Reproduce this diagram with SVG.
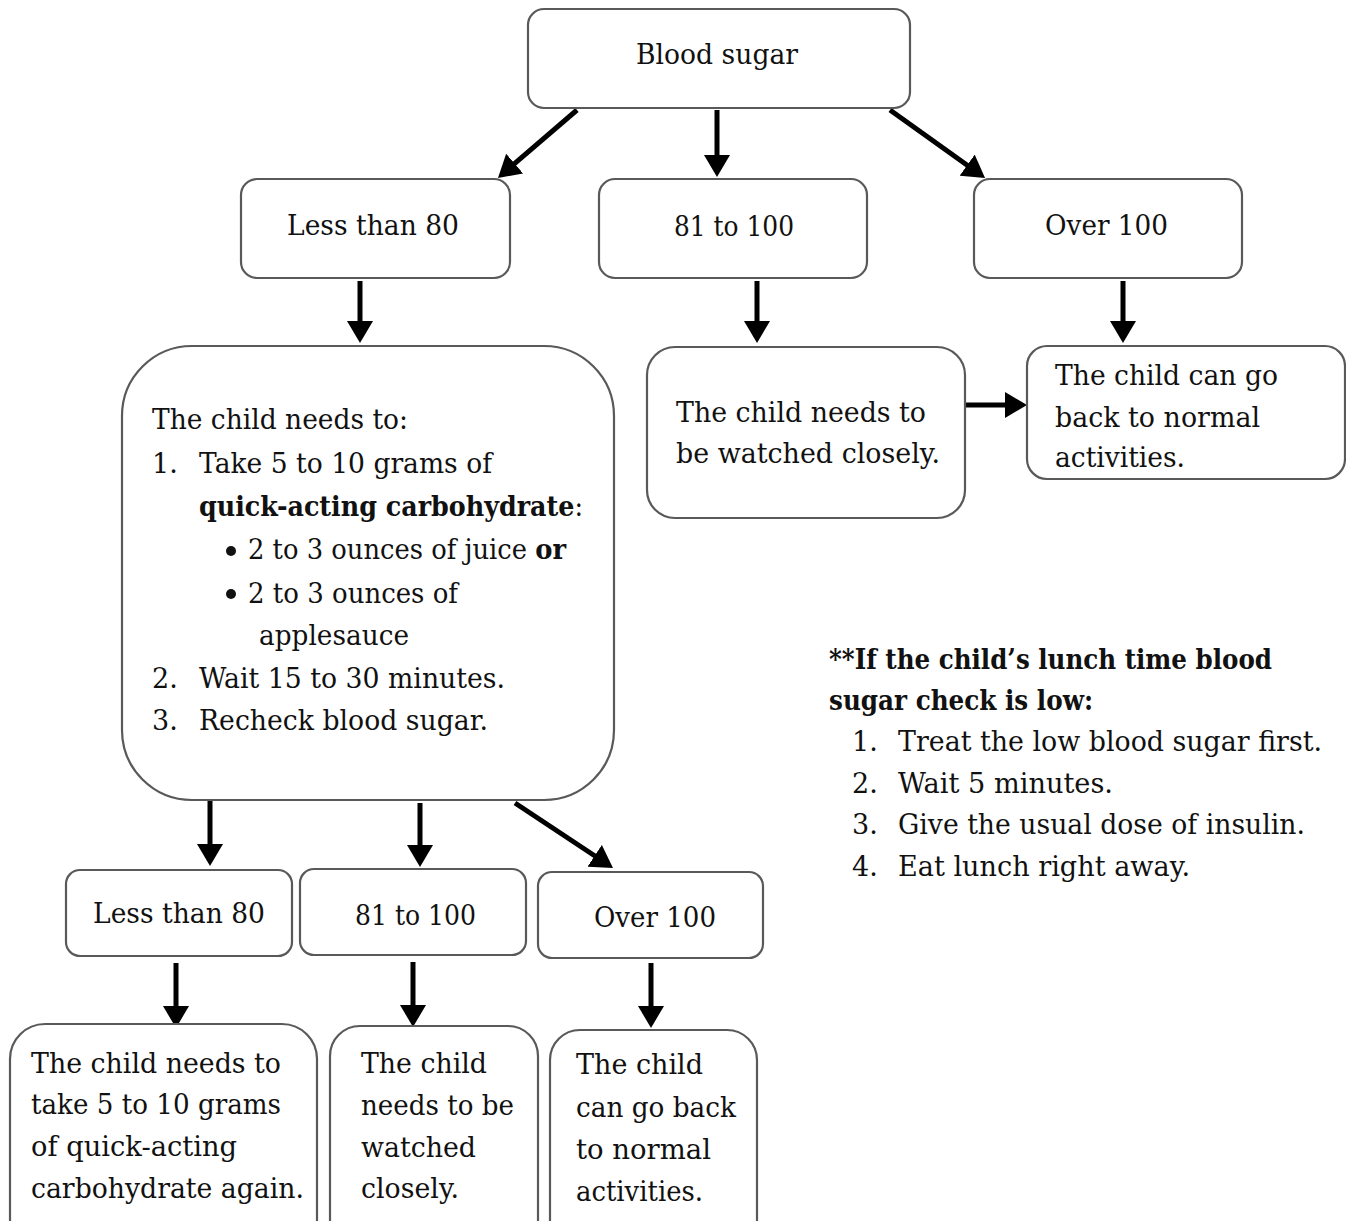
<svg xmlns="http://www.w3.org/2000/svg" width="1346" height="1221" viewBox="0 0 1346 1221">
<style>
.box{fill:#fff;stroke:#595959;stroke-width:2.2}
.t{font-family:"DejaVu Serif","Liberation Serif",serif;font-size:27px;fill:#111}
.b{font-family:"DejaVu Serif","Liberation Serif",serif;font-size:27px;font-weight:bold;fill:#111}
.bw{font-weight:bold}
.arr{stroke:#000;stroke-width:5;fill:none;marker-end:url(#ah)}
</style>
<defs>
<marker id="ah" markerUnits="userSpaceOnUse" markerWidth="22" markerHeight="26" refX="4" refY="13" orient="auto"><path d="M0,0 L22,13 L0,26 z" fill="#000"/></marker>
</defs>
<rect width="1346" height="1221" fill="#fff"/>
<g id="connectors">
<line class="arr" x1="577" y1="110" x2="511.6" y2="166.2"/>
<line class="arr" x1="717" y1="110" x2="717" y2="159"/>
<line class="arr" x1="890" y1="110" x2="970.4" y2="167.5"/>
<line class="arr" x1="360" y1="281" x2="360" y2="325"/>
<line class="arr" x1="757" y1="281" x2="757" y2="325"/>
<line class="arr" x1="1123" y1="281" x2="1123" y2="325"/>
<line class="arr" x1="966" y1="405" x2="1009" y2="405"/>
<line class="arr" x1="210" y1="801" x2="210" y2="848"/>
<line class="arr" x1="420" y1="803" x2="420" y2="849"/>
<line class="arr" x1="515" y1="803" x2="598" y2="858"/>
<line class="arr" x1="176" y1="963" x2="176" y2="1010"/>
<line class="arr" x1="413" y1="962" x2="413" y2="1009"/>
<line class="arr" x1="651" y1="963" x2="651" y2="1010"/>
</g>
<g id="blood-sugar">
<rect class="box" x="528" y="9" width="382" height="99" rx="16"/>
<text class="t" x="636" y="64" textLength="162" lengthAdjust="spacingAndGlyphs">Blood sugar</text>
</g>
<g id="less-80">
<rect class="box" x="241" y="179" width="269" height="99" rx="16"/>
<text class="t" x="287" y="235" textLength="172" lengthAdjust="spacingAndGlyphs">Less than 80</text>
</g>
<g id="r81-100">
<rect class="box" x="599" y="179" width="268" height="99" rx="16"/>
<text class="t" x="674" y="236" textLength="120" lengthAdjust="spacingAndGlyphs">81 to 100</text>
</g>
<g id="over-100">
<rect class="box" x="974" y="179" width="268" height="99" rx="16"/>
<text class="t" x="1045" y="235" textLength="123" lengthAdjust="spacingAndGlyphs">Over 100</text>
</g>
<g id="low-steps">
<rect class="box" x="122" y="346" width="492" height="454" rx="70"/>
<text class="t" x="152" y="429" textLength="256" lengthAdjust="spacingAndGlyphs">The child needs to:</text>
<text class="t" x="152" y="473">1.</text>
<text class="t" x="199" y="473" textLength="293" lengthAdjust="spacingAndGlyphs">Take 5 to 10 grams of</text>
<text class="t" x="199" y="516" textLength="384" lengthAdjust="spacingAndGlyphs"><tspan class="bw">quick-acting carbohydrate</tspan>:</text>
<circle cx="231" cy="551" r="5" fill="#111"/>
<text class="t" x="248" y="559" textLength="318" lengthAdjust="spacingAndGlyphs">2 to 3 ounces of juice <tspan class="bw">or</tspan></text>
<circle cx="231" cy="594" r="5" fill="#111"/>
<text class="t" x="248" y="603" textLength="210" lengthAdjust="spacingAndGlyphs">2 to 3 ounces of</text>
<text class="t" x="259" y="645" textLength="150" lengthAdjust="spacingAndGlyphs">applesauce</text>
<text class="t" x="152" y="688">2.</text>
<text class="t" x="199" y="688" textLength="306" lengthAdjust="spacingAndGlyphs">Wait 15 to 30 minutes.</text>
<text class="t" x="152" y="730">3.</text>
<text class="t" x="199" y="730" textLength="289" lengthAdjust="spacingAndGlyphs">Recheck blood sugar.</text>
</g>
<g id="watch">
<rect class="box" x="647" y="347" width="318" height="171" rx="28"/>
<text class="t" x="676" y="422" textLength="250" lengthAdjust="spacingAndGlyphs">The child needs to</text>
<text class="t" x="676" y="463" textLength="264" lengthAdjust="spacingAndGlyphs">be watched closely.</text>
</g>
<g id="normal">
<rect class="box" x="1027" y="346" width="318" height="133" rx="20"/>
<text class="t" x="1055" y="385" textLength="223" lengthAdjust="spacingAndGlyphs">The child can go</text>
<text class="t" x="1055" y="427" textLength="205" lengthAdjust="spacingAndGlyphs">back to normal</text>
<text class="t" x="1055" y="467" textLength="130" lengthAdjust="spacingAndGlyphs">activities.</text>
</g>
<g id="note">
<text class="b" x="829" y="669" textLength="443" lengthAdjust="spacingAndGlyphs">**If the child’s lunch time blood</text>
<text class="b" x="829" y="710" textLength="264" lengthAdjust="spacingAndGlyphs">sugar check is low:</text>
<text class="t" x="852" y="751">1.</text>
<text class="t" x="898" y="751" textLength="424" lengthAdjust="spacingAndGlyphs">Treat the low blood sugar first.</text>
<text class="t" x="852" y="793">2.</text>
<text class="t" x="898" y="793" textLength="215" lengthAdjust="spacingAndGlyphs">Wait 5 minutes.</text>
<text class="t" x="852" y="834">3.</text>
<text class="t" x="898" y="834" textLength="407" lengthAdjust="spacingAndGlyphs">Give the usual dose of insulin.</text>
<text class="t" x="852" y="876">4.</text>
<text class="t" x="898" y="876" textLength="292" lengthAdjust="spacingAndGlyphs">Eat lunch right away.</text>
</g>
<g id="less-80-b">
<rect class="box" x="66" y="870" width="226" height="86" rx="14"/>
<text class="t" x="93" y="923" textLength="172" lengthAdjust="spacingAndGlyphs">Less than 80</text>
</g>
<g id="r81-100-b">
<rect class="box" x="300" y="869" width="226" height="86" rx="14"/>
<text class="t" x="355" y="925" textLength="121" lengthAdjust="spacingAndGlyphs">81 to 100</text>
</g>
<g id="over-100-b">
<rect class="box" x="538" y="872" width="225" height="86" rx="14"/>
<text class="t" x="594" y="927" textLength="122" lengthAdjust="spacingAndGlyphs">Over 100</text>
</g>
<g id="again">
<rect class="box" x="10" y="1024" width="307" height="230" rx="35"/>
<text class="t" x="31" y="1073" textLength="250" lengthAdjust="spacingAndGlyphs">The child needs to</text>
<text class="t" x="31" y="1114" textLength="250" lengthAdjust="spacingAndGlyphs">take 5 to 10 grams</text>
<text class="t" x="31" y="1156" textLength="206" lengthAdjust="spacingAndGlyphs">of quick-acting</text>
<text class="t" x="31" y="1198" textLength="273" lengthAdjust="spacingAndGlyphs">carbohydrate again.</text>
</g>
<g id="watch-b">
<rect class="box" x="330" y="1026" width="208" height="230" rx="30"/>
<text class="t" x="361" y="1073" textLength="126" lengthAdjust="spacingAndGlyphs">The child</text>
<text class="t" x="361" y="1115" textLength="153" lengthAdjust="spacingAndGlyphs">needs to be</text>
<text class="t" x="361" y="1157" textLength="115" lengthAdjust="spacingAndGlyphs">watched</text>
<text class="t" x="361" y="1198" textLength="98" lengthAdjust="spacingAndGlyphs">closely.</text>
</g>
<g id="normal-b">
<rect class="box" x="550" y="1030" width="207" height="230" rx="30"/>
<text class="t" x="576" y="1074" textLength="127" lengthAdjust="spacingAndGlyphs">The child</text>
<text class="t" x="576" y="1117" textLength="160" lengthAdjust="spacingAndGlyphs">can go back</text>
<text class="t" x="576" y="1159" textLength="135" lengthAdjust="spacingAndGlyphs">to normal</text>
<text class="t" x="576" y="1201" textLength="127" lengthAdjust="spacingAndGlyphs">activities.</text>
</g>
</svg>
